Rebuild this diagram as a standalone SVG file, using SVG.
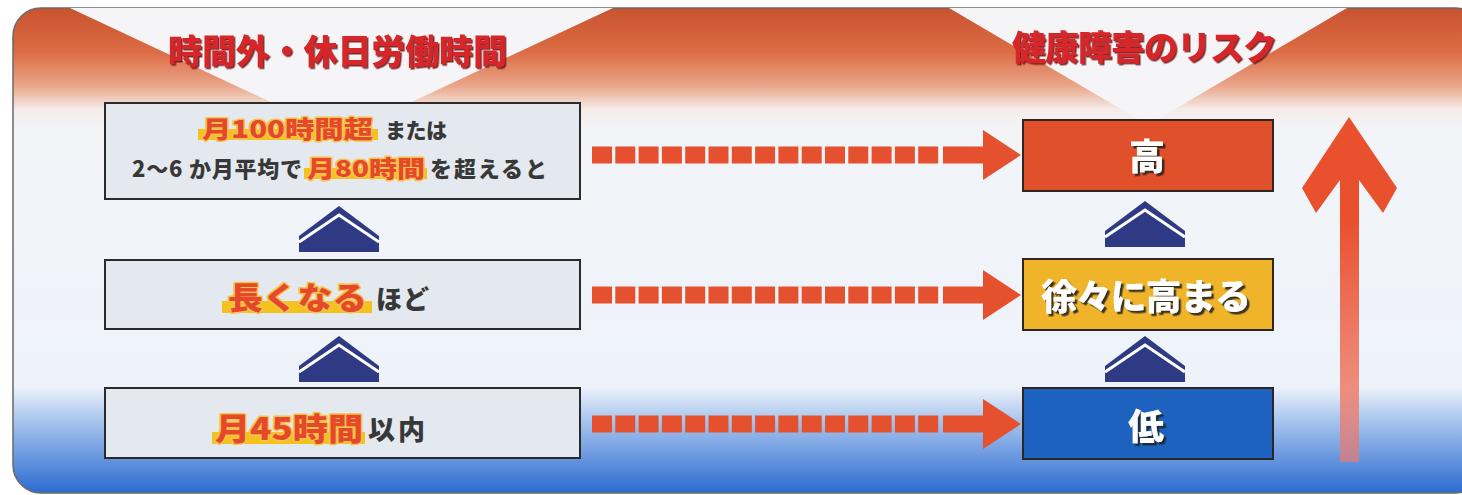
<svg xmlns="http://www.w3.org/2000/svg" width="1462" height="495" viewBox="0 0 1462 495">
<style>
.cjk{font-family:"Noto Sans CJK JP","Noto Sans CJK SC",sans-serif;}
.title{font-size:34px;font-weight:900;fill:#d6282b;filter:url(#tshadow);}
.lbox{fill:#e4e9ef;stroke:#2b2b2b;stroke-width:2;}
.dark{fill:#383838;font-weight:900;}
.red{fill:#e5482b;font-weight:900;stroke:#f6c34a;stroke-width:3;paint-order:stroke;stroke-linejoin:round;}
.hl{fill:#f4c21c;}
.rbox{stroke:#2e2525;stroke-width:2;}
.wt{fill:#ffffff;font-weight:900;font-size:36px;filter:url(#wshadow);}
.chev{fill:#2f3a85;}
.chevline{fill:none;stroke:#ffffff;stroke-width:3;}
.dash{stroke:#e5502e;stroke-width:17;stroke-dasharray:20 3.3;fill:none;}
.ahead{fill:#e5502e;}
</style>
<defs>
<filter id="tshadow" x="-10%" y="-30%" width="120%" height="160%">
<feDropShadow dx="1.5" dy="1.5" stdDeviation="0.4" flood-color="#6e1414" flood-opacity="0.9"/>
</filter>
<filter id="wshadow" x="-10%" y="-30%" width="120%" height="160%">
<feDropShadow dx="2.5" dy="2.5" stdDeviation="0.6" flood-color="#222222" flood-opacity="0.85"/>
</filter>
<linearGradient id="panelGrad" x1="0" y1="0" x2="0" y2="1">
<stop offset="0" stop-color="#c9532f"/>
<stop offset="0.09" stop-color="#db6c44"/>
<stop offset="0.16" stop-color="#eaa588"/>
<stop offset="0.21" stop-color="#f5ecea"/>
<stop offset="0.25" stop-color="#f2f4f8"/>
<stop offset="0.78" stop-color="#eef3fa"/>
<stop offset="0.85" stop-color="#a8c5ee"/>
<stop offset="1" stop-color="#2c6bd0"/>
</linearGradient>
<linearGradient id="bigArrow" gradientUnits="userSpaceOnUse" x1="0" y1="117" x2="0" y2="462">
<stop offset="0" stop-color="#e8502e"/>
<stop offset="0.3" stop-color="#e8502e"/>
<stop offset="0.45" stop-color="#eb6448"/>
<stop offset="1" stop-color="#ef7a6a" stop-opacity="0.65"/>
</linearGradient>
<clipPath id="panelClip">
<rect x="13" y="8" width="1470" height="485" rx="28"/>
</clipPath>
<g id="chevron">
<polygon class="chev" points="0,30 40,0 80,30 80,46 0,46"/>
<polyline class="chevline" points="0,36 40,9 80,36"/>
</g>
</defs>

<rect x="0" y="0" width="1462" height="495" fill="#ffffff"/>

<g id="panel">
<rect x="13" y="8" width="1470" height="485" rx="28" fill="url(#panelGrad)" stroke="#6a6a6a" stroke-width="1.5"/>
<g clip-path="url(#panelClip)">
<polygon points="70,8 613,8 341,135" fill="#f5f4f6"/>
<polygon points="949,8 1347,8 1148,125" fill="#f5f4f6"/>
</g>
</g>

<g id="title-left" class="cjk">
<text class="title" x="337.5" y="64" text-anchor="middle" textLength="339">時間外・休日労働時間</text>
</g>
<g id="title-right" class="cjk">
<text class="title" x="1144.5" y="60" text-anchor="middle" textLength="265">健康障害のリスク</text>
</g>

<g id="box-100h" class="cjk">
<rect class="lbox" x="105" y="103" width="475" height="96"/>
<rect class="hl" x="198" y="129" width="180" height="11"/>
<text class="red" x="202" y="138" font-size="24" textLength="171" lengthAdjust="spacingAndGlyphs">月100時間超</text>
<text class="dark" x="385" y="138" font-size="21" textLength="62">または</text>
<text class="dark" x="132" y="177" font-size="22" textLength="170">2〜6 か月平均で</text>
<rect class="hl" x="304" y="168" width="123" height="11"/>
<text class="red" x="307" y="177" font-size="23" textLength="118" lengthAdjust="spacingAndGlyphs">月80時間</text>
<text class="dark" x="430" y="177" font-size="22" textLength="117">を超えると</text>
</g>

<g id="box-longer" class="cjk">
<rect class="lbox" x="105" y="260" width="475" height="69"/>
<rect class="hl" x="222" y="301" width="150" height="12"/>
<text class="red" x="228" y="309" font-size="31" textLength="139" lengthAdjust="spacingAndGlyphs">長くなる</text>
<text class="dark" x="376" y="309" font-size="26" textLength="53">ほど</text>
</g>

<g id="box-45h" class="cjk">
<rect class="lbox" x="105" y="388" width="475" height="70"/>
<rect class="hl" x="212" y="432" width="153" height="12"/>
<text class="red" x="215" y="440" font-size="31" textLength="148" lengthAdjust="spacingAndGlyphs">月45時間</text>
<text class="dark" x="368" y="440" font-size="27" textLength="57">以内</text>
</g>

<g id="chevrons-left">
<use href="#chevron" x="299" y="206"/>
<use href="#chevron" x="299" y="336"/>
</g>

<g id="risk-high" class="cjk">
<rect class="rbox" x="1023" y="120" width="250" height="71" fill="#e0512b"/>
<text class="wt" x="1147" y="170" text-anchor="middle">高</text>
</g>

<g id="risk-mid" class="cjk">
<rect class="rbox" x="1023" y="259" width="250" height="71" fill="#efb42a"/>
<text class="wt" x="1146" y="310" text-anchor="middle" textLength="210">徐々に高まる</text>
</g>

<g id="risk-low" class="cjk">
<rect class="rbox" x="1023" y="388" width="250" height="71" fill="#1c62be"/>
<text class="wt" x="1146" y="440" text-anchor="middle">低</text>
</g>

<g id="chevrons-right">
<use href="#chevron" x="1105" y="201"/>
<use href="#chevron" x="1105" y="336"/>
</g>

<g id="connectors">
<line class="dash" x1="592" y1="155" x2="940" y2="155"/>
<path class="ahead" d="M943 146.5 H983 V130 L1021 155 L983 180 V163.5 H943 Z"/>
<line class="dash" x1="592" y1="295" x2="940" y2="295"/>
<path class="ahead" d="M943 286.5 H983 V270 L1021 295 L983 320 V303.5 H943 Z"/>
<line class="dash" x1="592" y1="424" x2="940" y2="424"/>
<path class="ahead" d="M943 415.5 H983 V399 L1021 424 L983 449 V432.5 H943 Z"/>
</g>

<g id="risk-arrow">
<path d="M1349 117 L1397 188 L1383 213 L1359 180 V462 H1340 V180 L1316 213 L1302 188 Z" fill="url(#bigArrow)"/>
</g>
</svg>
